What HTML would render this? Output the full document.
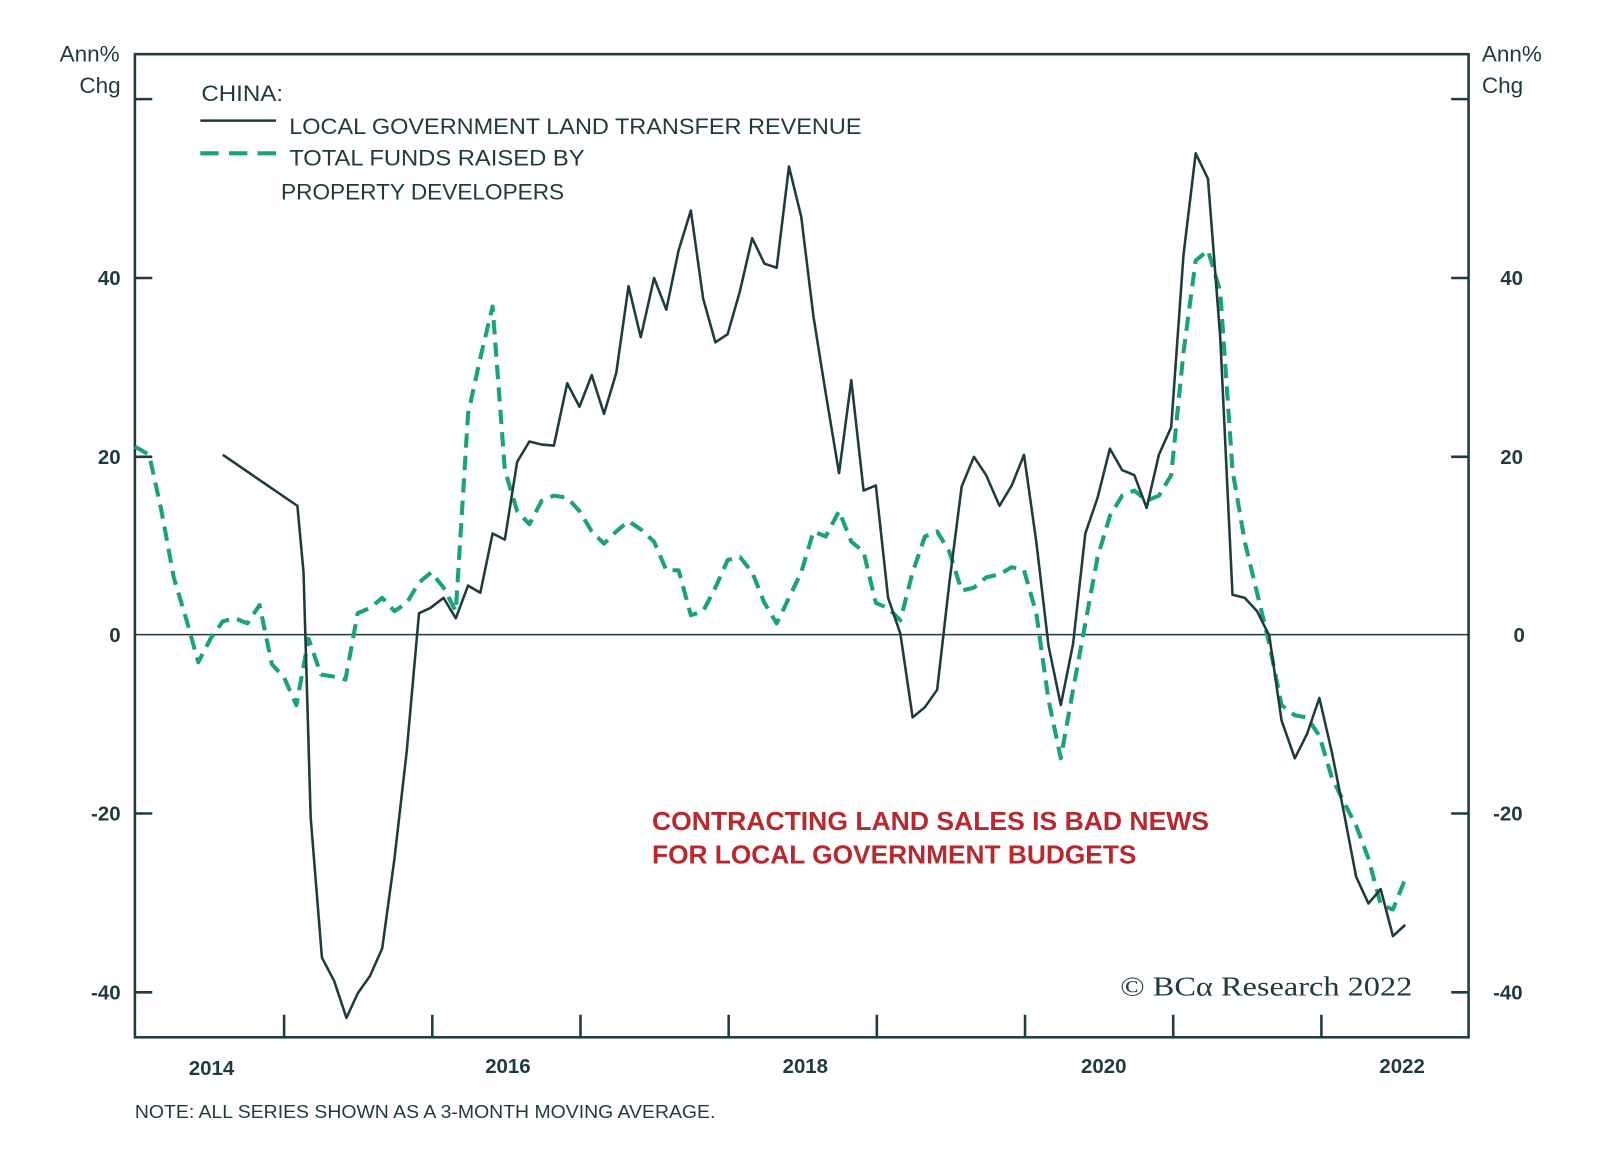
<!DOCTYPE html>
<html><head><meta charset="utf-8"><style>
html,body{margin:0;padding:0;background:#fff;}
svg{display:block;}
text{font-family:"Liberation Sans",sans-serif;fill:#1e3b3d;}
</style></head><body>
<svg width="1600" height="1168" viewBox="0 0 1565.6 1142.9" xmlns="http://www.w3.org/2000/svg">
<g stroke="#1e3b3d" stroke-width="2.5" fill="none">
<rect x="132" y="53" width="1305" height="962"/>
<line x1="132" y1="621" x2="1437" y2="621" stroke-width="1.5"/>
<path d="M132 97h17M132 272h17M132 447h17M132 796h17M132 971h17M1437 97h-17M1437 272h-17M1437 447h-17M1437 796h-17M1437 971h-17"/>
<path d="M278 1015v-22M423 1015v-22M568 1015v-22M713 1015v-22M858 1015v-22M1003 1015v-22M1148 1015v-22M1293 1015v-22"/>
</g>
<g font-size="20" font-weight="bold" text-anchor="end">
<text x="117" y="60" font-weight="normal" font-size="22">Ann%</text>
<text x="118" y="91" font-weight="normal" font-size="22">Chg</text>
<text x="118" y="279">40</text><text x="118" y="454">20</text><text x="118" y="628">0</text>
<text x="118" y="803">-20</text><text x="118" y="978">-40</text>
</g>
<g font-size="20" font-weight="bold" text-anchor="start">
<text x="1450" y="60" font-weight="normal" font-size="22">Ann%</text>
<text x="1450" y="91" font-weight="normal" font-size="22">Chg</text>
<text x="1468" y="279">40</text><text x="1468" y="454">20</text><text x="1481" y="628">0</text>
<text x="1461" y="803">-20</text><text x="1461" y="978">-40</text>
</g>
<g font-size="20" font-weight="bold" text-anchor="middle">
<text x="207" y="1052">2014</text><text x="497" y="1050">2016</text><text x="788" y="1050">2018</text>
<text x="1080" y="1050">2020</text><text x="1372" y="1050">2022</text>
</g>
<text x="132" y="1094" font-size="18" textLength="568" lengthAdjust="spacingAndGlyphs">NOTE: ALL SERIES SHOWN AS A 3-MONTH MOVING AVERAGE.</text>
<text x="197" y="99" font-size="22" textLength="80" lengthAdjust="spacingAndGlyphs">CHINA:</text>
<line x1="196" y1="118" x2="270" y2="118" stroke="#1e3b3d" stroke-width="2.5"/>
<text x="283" y="131" font-size="22" textLength="560" lengthAdjust="spacingAndGlyphs">LOCAL GOVERNMENT LAND TRANSFER REVENUE</text>
<line x1="196" y1="150" x2="270" y2="150" stroke="#1aa37a" stroke-width="4" stroke-dasharray="18,10"/>
<text x="283" y="162" font-size="22" textLength="289" lengthAdjust="spacingAndGlyphs">TOTAL FUNDS RAISED BY</text>
<text x="275" y="195" font-size="22" textLength="277" lengthAdjust="spacingAndGlyphs">PROPERTY DEVELOPERS</text>
<text x="638" y="812" font-size="25" font-weight="bold" style="fill:#b8282e" textLength="545" lengthAdjust="spacingAndGlyphs">CONTRACTING LAND SALES IS BAD NEWS</text>
<text x="638" y="845" font-size="25" font-weight="bold" style="fill:#b8282e" textLength="474" lengthAdjust="spacingAndGlyphs">FOR LOCAL GOVERNMENT BUDGETS</text>
<text x="1096" y="974" font-size="27" style="font-family:'Liberation Serif',serif" textLength="286" lengthAdjust="spacingAndGlyphs">© BCα Research 2022</text>
<polyline fill="none" stroke="#1aa37a" stroke-width="4" stroke-dasharray="14,8" stroke-linejoin="round" points="132,437 146,445 158,500 170,565 182,605 194,648 206,625 218,608 230,605 242,610 254,592 266,650 278,663 290,690 302,625 314,660 326,662 338,665 350,600 362,595 374,585 386,598 398,590 410,570 422,560 434,575 446,598 458,405 470,350 482,300 494,460 506,500 518,513 530,490 542,485 555,487 567,500 579,520 591,532 603,520 615,510 627,518 640,530 652,558 664,558 676,602 688,598 700,575 712,548 724,545 736,560 748,590 760,610 772,585 784,560 796,520 808,525 821,500 833,530 845,540 857,590 869,595 881,607 893,560 905,525 917,520 929,540 941,578 953,575 965,565 978,562 990,555 1002,558 1014,600 1026,685 1038,742 1050,675 1062,610 1074,545 1086,505 1098,485 1110,480 1122,490 1134,485 1146,465 1158,345 1170,255 1182,245 1194,285 1206,460 1218,530 1230,580 1242,630 1254,690 1267,700 1279,702 1291,720 1303,760 1315,785 1327,808 1339,840 1351,885 1363,890 1375,860"/>
<polyline fill="none" stroke="#1e3b3d" stroke-width="2.5" stroke-linejoin="round" points="218,445 291,495 297,560 304,800 315,937 327,960 339,996 350,972 362,955 374,928 386,840 398,735 410,600 421,595 434,585 446,605 458,573 470,580 482,522 494,528 506,452 518,432 530,435 542,436 555,375 567,398 579,367 591,405 603,365 615,280 627,330 640,272 652,303 664,245 676,206 688,292 700,335 712,327 724,285 736,233 748,258 760,262 772,163 784,212 796,310 808,385 821,463 833,372 845,480 857,475 869,585 881,620 893,702 905,692 917,675 929,570 941,476 953,447 965,465 978,495 990,475 1002,445 1014,530 1026,632 1038,690 1050,630 1062,522 1074,487 1086,439 1098,460 1110,465 1122,497 1134,445 1146,418 1158,250 1170,150 1182,175 1194,330 1206,582 1218,585 1230,598 1242,622 1254,705 1267,742 1279,718 1291,683 1303,735 1315,795 1327,858 1339,884 1351,870 1363,916 1375,905"/>
</svg>
</body></html>
